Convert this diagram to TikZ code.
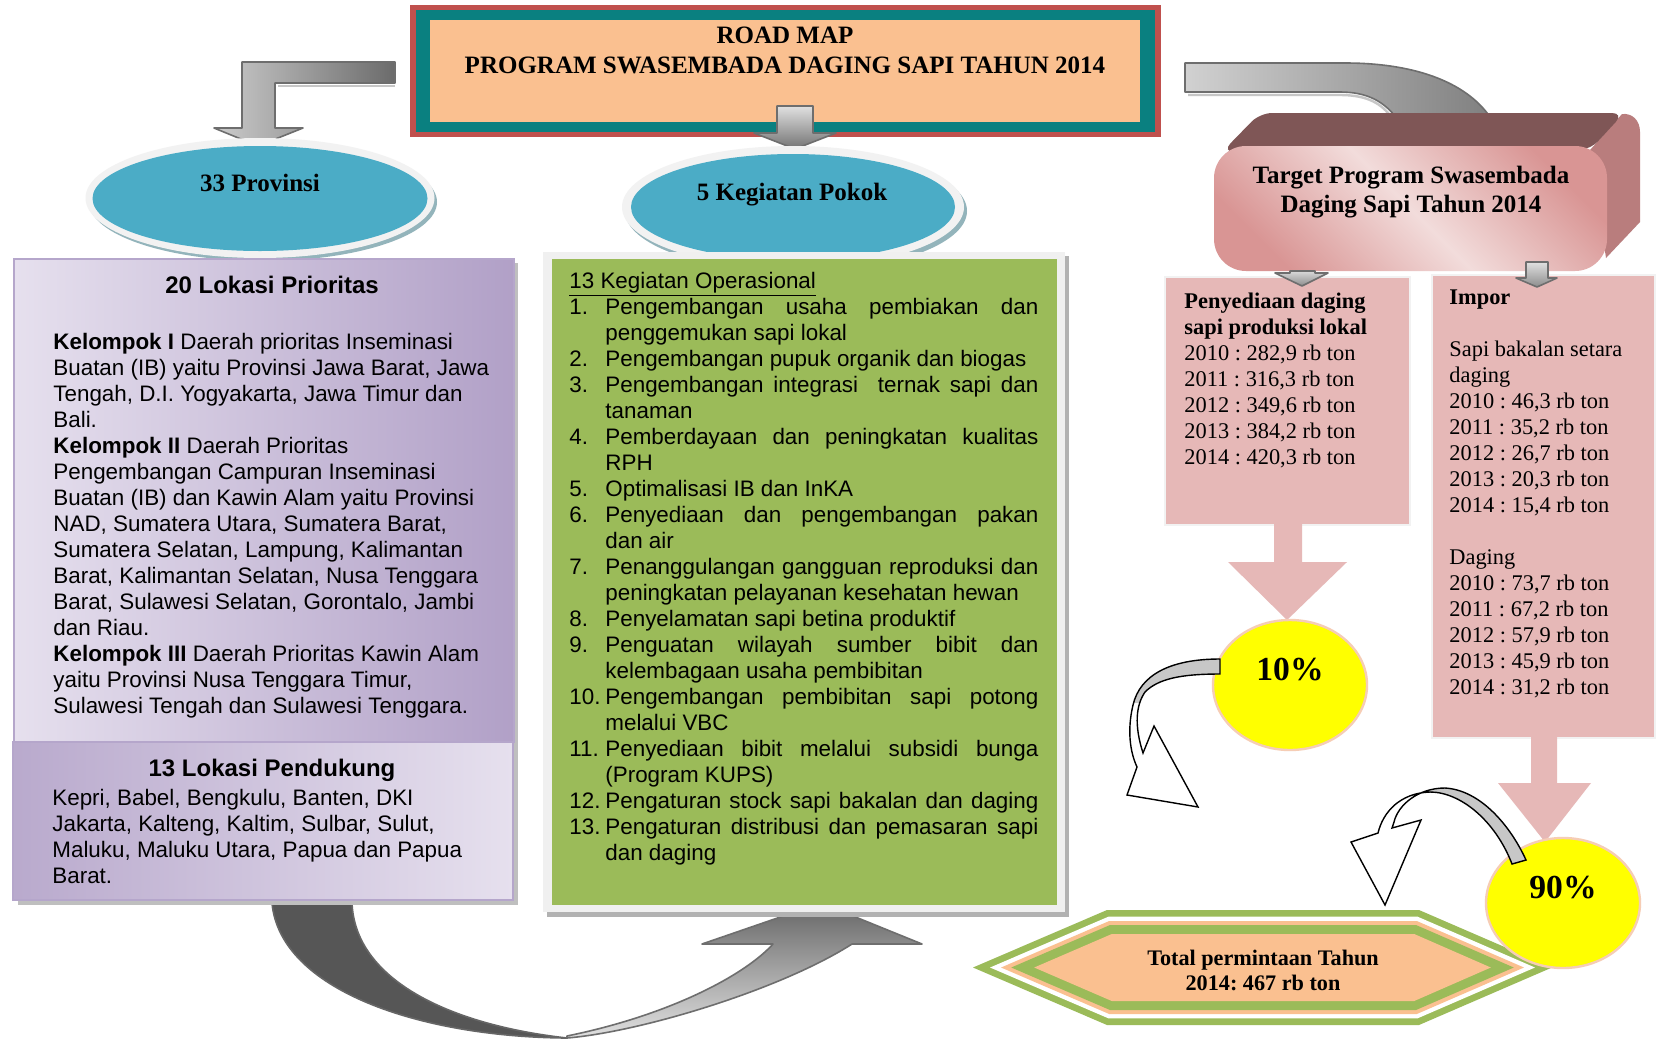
\documentclass[tikz,border=0pt]{standalone}
\usepackage{fontspec}
\setmainfont{Liberation Serif}
\newfontfamily\arialfont{Liberation Sans}
\definecolor{titlered}{HTML}{C0504D}
\definecolor{tealband}{HTML}{0A8080}
\definecolor{peach}{HTML}{FAC090}
\definecolor{skyblue}{HTML}{4BACC6}
\definecolor{rimwhite}{HTML}{F2F2F2}
\definecolor{rimshadow}{HTML}{93B4BB}
\definecolor{leafgreen}{HTML}{9BBB59}
\definecolor{framegray}{HTML}{F0F0F0}
\definecolor{lavlight}{HTML}{E6E0EE}
\definecolor{lavdark}{HTML}{B1A0C7}
\definecolor{lavedge}{HTML}{B5A6CB}
\definecolor{rosebox}{HTML}{E6B8B7}
\definecolor{rosetop}{HTML}{7F5656}
\definecolor{roseside}{HTML}{B97D7D}
\definecolor{rosedeep}{HTML}{D99594}
\definecolor{roselight}{HTML}{F2DCDB}
\definecolor{sunyellow}{HTML}{FFFF00}
\definecolor{circleedge}{HTML}{F6CDB5}
\definecolor{arrowedge}{HTML}{6E6E6E}
\definecolor{bandgray}{HTML}{565656}
\newcommand{\justline}[1]{\makebox[216.5pt][s]{#1}}
\frenchspacing
\begin{document}
\begin{tikzpicture}[x=0.5pt,y=-0.5pt,
  sanstext/.style={font=\arialfont\fontsize{11.2}{13}\selectfont, inner sep=0pt, anchor=base west},
  sanshead/.style={font=\arialfont\bfseries\fontsize{12}{14}\selectfont, inner sep=0pt, anchor=base},
  sertext/.style={font=\fontsize{11.2}{13}\selectfont, inner sep=0pt, anchor=base west},
  headtext/.style={font=\bfseries\fontsize{12.5}{15}\selectfont, inner sep=0pt, anchor=base},
  hextext/.style={font=\bfseries\fontsize{11.1}{13}\selectfont, inner sep=0pt, anchor=base},
  pcttext/.style={font=\bfseries\fontsize{16.8}{20}\selectfont, inner sep=0pt, anchor=base},
  graybar/.style={draw=arrowedge, line width=0.8pt, line join=round},
  ringarrow/.style={draw=black, line width=0.7pt, line join=miter},
]
\fill[white] (0,0) rectangle (1658,1039);
\useasboundingbox (0,0) rectangle (1658,1039);

% ---------- title box ----------
\fill[titlered] (410,5) rectangle (1161,137);
\fill[tealband] (416,10) rectangle (1155,132);
\fill[peach] (430,20) rectangle (1140,122);
\node[headtext] (roadmap) at (785,43) {ROAD MAP};
\node[headtext] (program) at (785,73) {PROGRAM SWASEMBADA DAGING SAPI TAHUN 2014};

% ---------- gray connectors at the top ----------
\path[graybar, left color=black!20, right color=black!58]
  (395,62) -- (242,62) -- (242,128) -- (214,128) -- (258,146) -- (303,128) -- (275,128) -- (275,83) -- (395,83) -- cycle;
\draw[black!22, line width=1.2pt] (278,86) -- (395,86);
\path[graybar, top color=black!12, bottom color=black!55]
  (777,106) -- (813,106) -- (813,133) -- (836,133) -- (795,149) -- (754,133) -- (777,133) -- cycle;
\draw[black!22, line width=1.2pt] (1188,95) -- (1340,95) .. controls (1368,95) and (1382,104) .. (1392,118);
\path[graybar, left color=black!18, right color=black!50]
  (1185,63) -- (1345,63) .. controls (1420,63) and (1470,85) .. (1492,120) -- (1398,120)
  .. controls (1385,102) and (1368,92) .. (1340,92) -- (1185,92) -- cycle;

% ---------- big bottom arrow ----------
\path[fill=bandgray, draw=black!60, line width=0.8pt]
  (272,903) .. controls (280,990) and (420,1037) .. (567,1038)
  .. controls (450,1025) and (355,980) .. (352,903) -- cycle;
\path[graybar, top color=black!60, bottom color=black!12]
  (567,1038) .. controls (640,1032) and (780,990) .. (852,944) -- (922,944) -- (821,903) -- (702,944) -- (773,944)
  .. controls (745,975) and (670,1015) .. (567,1036) -- cycle;

% ---------- ellipses ----------
\fill[rimshadow] (796,211) ellipse [x radius=171, y radius=61];
\fill[rimwhite] (793,207) ellipse [x radius=171, y radius=61];
\fill[skyblue] (793,207) ellipse [x radius=162, y radius=53];
\node[headtext] (pokok) at (792,200) {5 Kegiatan Pokok};

\fill[rimshadow] (263,202) ellipse [x radius=174, y radius=59];
\fill[rimwhite] (260,198) ellipse [x radius=174.5, y radius=60];
\fill[skyblue] (260,198.5) ellipse [x radius=167.5, y radius=52.5];
\node[headtext] (prov) at (260,191) {33 Provinsi};

% ---------- left boxes ----------
\fill[black!25] (18,263) rectangle (518,905);
\path[draw=lavedge, line width=0.8pt, left color=lavlight, right color=lavdark] (14,259) rectangle (514,742);
\path[draw=lavedge, line width=0.8pt, left color=lavdark!85!lavlight, right color=lavlight] (13,742) rectangle (513,900);
\node[sanshead] (prio) at (272,293) {20 Lokasi Prioritas};
\foreach \t [count=\k from 0] in {
  {\textbf{Kelompok I} Daerah prioritas Inseminasi},
  {Buatan (IB) yaitu Provinsi Jawa Barat, Jawa},
  {Tengah, D.I. Yogyakarta, Jawa Timur dan},
  {Bali.},
  {\textbf{Kelompok II} Daerah Prioritas},
  {Pengembangan Campuran Inseminasi},
  {Buatan (IB) dan Kawin Alam yaitu Provinsi},
  {NAD, Sumatera Utara, Sumatera Barat,},
  {Sumatera Selatan, Lampung, Kalimantan},
  {Barat, Kalimantan Selatan, Nusa Tenggara},
  {Barat, Sulawesi Selatan, Gorontalo, Jambi},
  {dan Riau.},
  {\textbf{Kelompok III} Daerah Prioritas Kawin Alam},
  {yaitu Provinsi Nusa Tenggara Timur,},
  {Sulawesi Tengah dan Sulawesi Tenggara.}}
  \node[sanstext] (lp\k) at (53,{349+26*\k}) {\t};
\node[sanshead] (dukung) at (272,776) {13 Lokasi Pendukung};
\foreach \t [count=\k from 0] in {
  {Kepri, Babel, Bengkulu, Banten, DKI},
  {Jakarta, Kalteng, Kaltim, Sulbar, Sulut,},
  {Maluku, Maluku Utara, Papua dan Papua},
  {Barat.}}
  \node[sanstext] (ld\k) at (52,{805+26*\k}) {\t};

% ---------- green box ----------
\fill[black!30] (547,256) rectangle (1069,917);
\fill[framegray] (543,252) rectangle (1065,912);
\fill[leafgreen] (552,259) rectangle (1057,905);
\node[sanstext] (gkhead) at (569,288) {\underline{13 Kegiatan Operasional}};
\foreach \n/\t [count=\k from 1] in {
  1./{\justline{Pengembangan usaha pembiakan dan}},
  /{penggemukan sapi lokal},
  2./{Pengembangan pupuk organik dan biogas},
  3./{\justline{Pengembangan integrasi\ \ ternak sapi dan}},
  /{tanaman},
  4./{\justline{Pemberdayaan dan peningkatan kualitas}},
  /{RPH},
  5./{Optimalisasi IB dan InKA},
  6./{\justline{Penyediaan dan pengembangan pakan}},
  /{dan air},
  7./{\justline{Penanggulangan gangguan reproduksi dan}},
  /{peningkatan pelayanan kesehatan hewan},
  8./{Penyelamatan sapi betina produktif},
  9./{\justline{Penguatan wilayah sumber bibit dan}},
  /{kelembagaan usaha pembibitan},
  10./{\justline{Pengembangan pembibitan sapi potong}},
  /{melalui VBC},
  11./{\justline{Penyediaan bibit melalui subsidi bunga}},
  /{(Program KUPS)},
  12./{\justline{Pengaturan stock sapi bakalan dan daging}},
  13./{\justline{Pengaturan distribusi dan pemasaran sapi}},
  /{dan daging}}
  {
  \node[sanstext] (gn\k) at (569,{288+26*\k}) {\n};
  \node[sanstext] (gt\k) at (605,{288+26*\k}) {\t};
  }

% ---------- pink boxes ----------
\path[fill=rosebox, draw=rimwhite, line width=1.2pt] (1165,277) rectangle (1410,525);
\path[fill=rosebox, draw=rimwhite, line width=1.2pt] (1432,275) rectangle (1655,738);
\fill[rosebox] (1274,523) -- (1302,523) -- (1302,562) -- (1347,562) -- (1287,620) -- (1228,562) -- (1274,562) -- cycle;
\fill[rosebox] (1531,736) -- (1557,736) -- (1557,783) -- (1591,783) -- (1545,842) -- (1498,783) -- (1531,783) -- cycle;
\foreach \t [count=\k from 0] in {
  {\textbf{Penyediaan daging}},
  {\textbf{sapi produksi lokal}},
  {2010 : 282,9 rb ton},
  {2011 : 316,3 rb ton},
  {2012 : 349,6 rb ton},
  {2013 : 384,2 rb ton},
  {2014 : 420,3 rb ton}}
  \node[sertext] (pl\k) at (1184,{308+26*\k}) {\t};
\foreach \k/\t in {
  0/{\textbf{Impor}},
  2/{Sapi bakalan setara},
  3/{daging},
  4/{2010 : 46,3 rb ton},
  5/{2011 : 35,2 rb ton},
  6/{2012 : 26,7 rb ton},
  7/{2013 : 20,3 rb ton},
  8/{2014 : 15,4 rb ton},
  10/{Daging},
  11/{2010 : 73,7 rb ton},
  12/{2011 : 67,2 rb ton},
  13/{2012 : 57,9 rb ton},
  14/{2013 : 45,9 rb ton},
  15/{2014 : 31,2 rb ton}}
  \node[sertext] (im\k) at (1449,{304+26*\k}) {\t};

% ---------- target box (3-D) ----------
\path[fill=roseside] (1590,150) -- (1622,114) .. controls (1632,113) and (1640,120) .. (1640,132)
  -- (1640,222) -- (1606,258) -- cycle;
\path[fill=rosetop, rounded corners=6] (1222,152) -- (1260,113) -- (1624,113) -- (1590,150) -- cycle;
\path[rounded corners=16, left color=rosedeep, right color=rosedeep, middle color=roselight, shading angle=135]
  (1214,146) rectangle (1607,271);
\node[headtext] (target1) at (1411,183) {Target Program Swasembada};
\node[headtext] (target2) at (1411,212) {Daging Sapi Tahun 2014};
\path[graybar, top color=black!15, bottom color=black!45]
  (1290,271) -- (1315,271) -- (1315,273) -- (1328,273) -- (1302,286) -- (1275,273) -- (1290,273) -- cycle;
\path[graybar, top color=black!12, bottom color=black!45]
  (1526,262) -- (1548,262) -- (1548,278) -- (1557,278) -- (1537,287) -- (1516,278) -- (1526,278) -- cycle;

% ---------- hexagon ----------
\foreach \d/\c in {0/leafgreen, 6.7/white, 11/peach, 15/leafgreen, 24/peach}
  \fill[\c] ({973+2.55*\d},967.5) -- ({1107+0.2*\d},{910+\d}) -- ({1419-0.2*\d},{910+\d})
    -- ({1552-2.55*\d},967.5) -- ({1419-0.2*\d},{1025-\d}) -- ({1107+0.2*\d},{1025-\d}) -- cycle;
\node[hextext] (total1) at (1263,965) {Total permintaan Tahun};
\node[hextext] (total2) at (1263,990) {2014: 467 rb ton};

% ---------- circles ----------
\path[fill=sunyellow, draw=circleedge, line width=1.2pt] (1290,685) ellipse [x radius=77, y radius=65];
\node[pcttext] (ten) at (1290,680) {10\%};
\path[fill=sunyellow, draw=circleedge, line width=1.2pt] (1563,903) ellipse [x radius=77, y radius=65];
\node[pcttext] (ninety) at (1563,898) {90\%};

% ---------- curved arrows ----------
\begin{scope}
\clip (1110,650) rectangle (1230,702);
\fill[black!22] (1220,659) .. controls (1170,659) and (1140,675) .. (1133,705) .. controls (1127,730) and (1130,752) .. (1137,767)
  -- (1127,795) -- (1198,807) -- (1154,726) -- (1143,753) .. controls (1134,725) and (1136,705) .. (1145,692)
  .. controls (1158,679) and (1180,674) .. (1220,674) -- cycle;
\end{scope}
\path[ringarrow] (1220,659) .. controls (1170,659) and (1140,675) .. (1133,705) .. controls (1127,730) and (1130,752) .. (1137,767)
  -- (1127,795) -- (1198,807) -- (1154,726) -- (1143,753) .. controls (1134,725) and (1136,705) .. (1145,692)
  .. controls (1158,679) and (1180,674) .. (1220,674) -- cycle;

\begin{scope}
\clip (1428,770) rectangle (1540,880);
\fill[black!22] (1526,860) .. controls (1510,825) and (1480,790) .. (1445,788) .. controls (1418,788) and (1398,805) .. (1394,822)
  -- (1392,828) -- (1421,820) -- (1385,905) -- (1351,842) -- (1378,833)
  .. controls (1383,812) and (1400,793) .. (1430,792) .. controls (1460,792) and (1495,820) .. (1512,864) -- cycle;
\end{scope}
\path[ringarrow] (1526,860) .. controls (1510,825) and (1480,790) .. (1445,788) .. controls (1418,788) and (1398,805) .. (1394,822)
  -- (1392,828) -- (1421,820) -- (1385,905) -- (1351,842) -- (1378,833)
  .. controls (1383,812) and (1400,793) .. (1430,792) .. controls (1460,792) and (1495,820) .. (1512,864) -- cycle;
\end{tikzpicture}
\end{document}
